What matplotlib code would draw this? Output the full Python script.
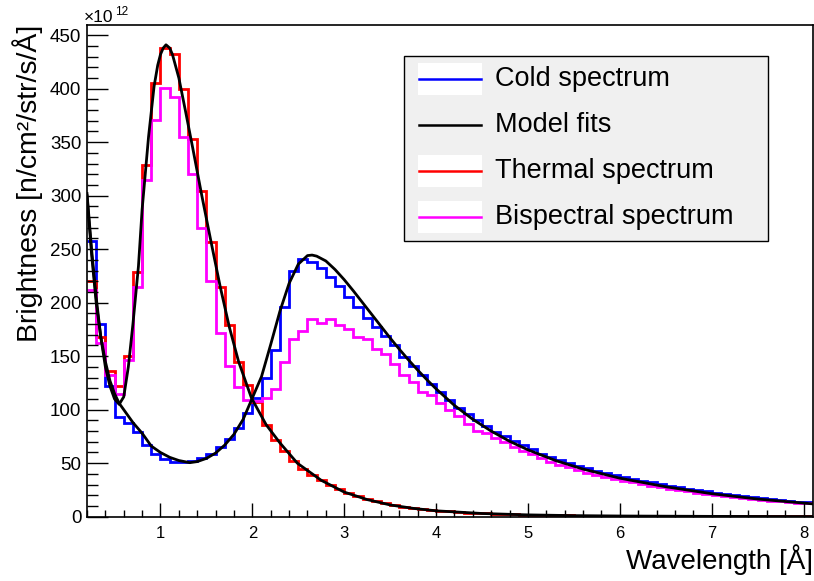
import numpy as np
import matplotlib
matplotlib.use("Agg")
import matplotlib.pyplot as plt
from matplotlib.patches import Rectangle
from matplotlib.lines import Line2D
from matplotlib.ticker import MultipleLocator

plt.rcParams['font.family'] = ['Liberation Sans', 'DejaVu Sans']

# Histogram binning: 79 bins of 0.1 A from 0.2 to 8.1 A
edges = np.linspace(0.2, 8.1, 80)

# Brightness in units of 1e12 n/cm2/str/s/A
cold = [258, 180, 122, 93.5, 88, 79, 67, 58.6, 53.6, 51.4,
        50.8, 52, 54.5, 58.6, 65, 72.6, 83, 97, 110.6, 129.6,
        156, 196, 230, 240.5, 238, 232, 224, 215.6, 205.6, 195.7,
        185.4, 177, 169, 160.5, 149, 140.8, 132.4, 124, 116.8, 109,
        102, 96, 90.4, 84.8, 79.4, 75.4, 71, 67, 63, 59,
        56, 53, 50.3, 47.8, 45.4, 43.1, 41, 39, 37.1, 35.3,
        33.6, 32, 30.4, 28.9, 27.5, 26.1, 24.8, 23.6, 22.4, 21.3,
        20.2, 19.2, 18.2, 17.3, 16.4, 15.6, 14.8, 14.0, 13.3]

thermal = [220, 168, 136, 122, 150, 229, 329, 405, 438, 432,
           400, 353, 304, 257, 215, 179, 145, 123, 107, 86,
           72, 61, 52, 45, 39, 34, 30, 26, 22.5, 19.5,
           17, 14.8, 12.8, 11, 9.5, 8.3, 7.3, 6.4, 5.6, 4.9,
           4.3, 3.8, 3.4, 3.0, 2.7, 2.4, 2.1, 1.9, 1.7, 1.55,
           1.4, 1.3, 1.15, 1.05, 0.95, 0.9, 0.8, 0.75, 0.7, 0.65,
           0.6, 0.56, 0.52, 0.49, 0.46, 0.43, 0.4, 0.38, 0.36, 0.34,
           0.32, 0.3, 0.28, 0.27, 0.25, 0.24, 0.23, 0.22, 0.21]

bispectral = [212, 162, 132, 115, 146, 215, 315, 371, 401, 392,
              355, 320, 270, 220, 172, 141, 121, 109, 108, 111,
              119, 145, 166, 174, 185, 181, 185, 179, 175, 168,
              166, 157, 152, 143, 132, 126, 117, 114, 106, 100,
              94, 87, 80, 78, 74, 70, 65, 61, 58.6, 54.6,
              51.5, 48.6, 46, 43.6, 41.3, 39.1, 37.2, 35.3, 33.6, 32,
              30.4, 28.9, 27.5, 26.1, 24.9, 23.6, 22.4, 21.3, 20.2, 19.2,
              18.2, 17.4, 16.5, 15.8, 15, 14.4, 13.7, 13, 12.5]

# Model fit curves
thermal_fit_x = [0.2, 0.25, 0.3, 0.35, 0.4, 0.45, 0.5, 0.55, 0.6, 0.65,
                 0.7, 0.76, 0.8, 0.87, 0.93, 0.97, 1.0, 1.03, 1.06, 1.1,
                 1.13, 1.2, 1.27, 1.35, 1.45, 1.55, 1.65, 1.75, 1.85, 1.99,
                 2.15, 2.3, 2.49, 2.75, 3.0, 3.25, 3.5, 3.75, 4.0, 4.5,
                 5.0, 5.5, 6.0, 7.0, 8.1]
thermal_fit_y = [302, 250, 205, 168, 140, 122, 110, 105, 112, 140,
                 180, 234, 287, 355, 402, 422, 432, 438, 441, 438,
                 432, 410, 380, 345, 300, 257, 215, 177, 145, 111,
                 86, 69, 50, 34, 23, 16, 11, 7.8, 5.5, 3.0,
                 1.7, 1.0, 0.65, 0.3, 0.15]

cold_fit_x = [0.2, 0.25, 0.3, 0.35, 0.4, 0.45, 0.5, 0.55, 0.6, 0.7,
              0.8, 0.9, 1.0, 1.1, 1.2, 1.32, 1.4, 1.5, 1.6, 1.7,
              1.8, 1.9, 2.0, 2.1, 2.2, 2.3, 2.4, 2.5, 2.6, 2.65,
              2.7, 2.8, 2.9, 3.0, 3.1, 3.2, 3.3, 3.4, 3.5, 3.6,
              3.7, 3.8, 3.9, 4.0, 4.2, 4.4, 4.6, 4.8, 5.0, 5.3,
              5.6, 6.0, 6.5, 7.0, 7.5, 8.1]
cold_fit_y = [300, 245, 200, 168, 145, 127, 115, 106, 100, 88,
              78, 66, 60, 55.5, 52.5, 50.5, 51.5, 54.5, 59.5, 67,
              77, 91, 111, 131, 161, 192, 218, 236, 244, 244.5,
              243.5, 239, 231, 221.5, 211, 200, 189, 178, 167, 156.5,
              146.5, 137, 128, 119.5, 104, 91, 80, 70.5, 62.5, 52.5,
              44.5, 36, 28, 21.5, 16.5, 12]

legend_labels = ['Cold spectrum', 'Model fits', 'Thermal spectrum', 'Bispectral spectrum']
legend_colors = ['#0000ff', 'black', '#ff0000', '#ff00ff']
legend_boxed = [True, False, True, True]

W, H = 814, 581
fig = plt.figure(figsize=(W / 100, H / 100), dpi=100)
ax = fig.add_axes([87 / W, 1 - 516.7 / H, (812.7 - 87) / W, (516.7 - 25) / H])

ax.stairs(cold, edges, color='#0000ff', lw=2, baseline=None)
ax.stairs(thermal, edges, color='#ff0000', lw=2, baseline=None)
ax.stairs(bispectral, edges, color='#ff00ff', lw=2, baseline=None)
ax.plot(thermal_fit_x, thermal_fit_y, color='black', lw=2)
ax.plot(cold_fit_x, cold_fit_y, color='black', lw=2)

ax.set_xlim(0.2, 8.1)
ax.set_ylim(0, 459.5)

ax.xaxis.set_major_locator(MultipleLocator(1))
ax.xaxis.set_minor_locator(MultipleLocator(0.2))
ax.yaxis.set_major_locator(MultipleLocator(50))
ax.yaxis.set_minor_locator(MultipleLocator(10))
ax.tick_params(which='both', direction='in', top=False, right=False, width=1)
ax.tick_params(axis='y', which='major', length=15, labelsize=13.5, pad=4)
ax.tick_params(axis='y', which='minor', length=8)
ax.tick_params(axis='x', which='major', length=10, labelsize=12, pad=7)
ax.tick_params(axis='x', which='minor', length=5)
for s in ax.spines.values():
    s.set_linewidth(1.2)

ax.set_xlabel('Wavelength [Å]', fontsize=20, loc='right')
ax.xaxis.set_label_coords(1.0, -0.055)
ax.set_ylabel('Brightness [n/cm²/str/s/Å]', fontsize=20.5, loc='top')
ax.yaxis.set_label_coords(-0.06, 1.0)

# exponent above the y axis
fig.text(84 / W, 1 - 22 / H, '×10', fontsize=12.5, va='baseline')
fig.text(115 / W, 1 - 15 / H, '12', fontsize=8.5, va='baseline')

# legend box, ROOT style
fig.add_artist(Rectangle((404 / W, 1 - 240.7 / H), (767.7 - 404) / W, (240.7 - 55.7) / H,
                         transform=fig.transFigure, facecolor='#f0f0f0',
                         edgecolor='black', lw=1, zorder=5))
for i, (lab, col, boxed) in enumerate(zip(legend_labels, legend_colors, legend_boxed)):
    yc = 79 + 46 * i
    if boxed:
        fig.add_artist(Rectangle((418 / W, 1 - (yc + 16) / H), 64 / W, 32 / H,
                                 transform=fig.transFigure, facecolor='white',
                                 edgecolor='none', zorder=6))
    fig.add_artist(Line2D([419 / W, 481 / W], [1 - yc / H, 1 - yc / H],
                          transform=fig.transFigure, color=col, lw=1.8, zorder=7))
    fig.text(495 / W, 1 - (yc + 7.5) / H, lab, fontsize=19.5, va='baseline', zorder=7)

fig.savefig('out.png', dpi=100)
